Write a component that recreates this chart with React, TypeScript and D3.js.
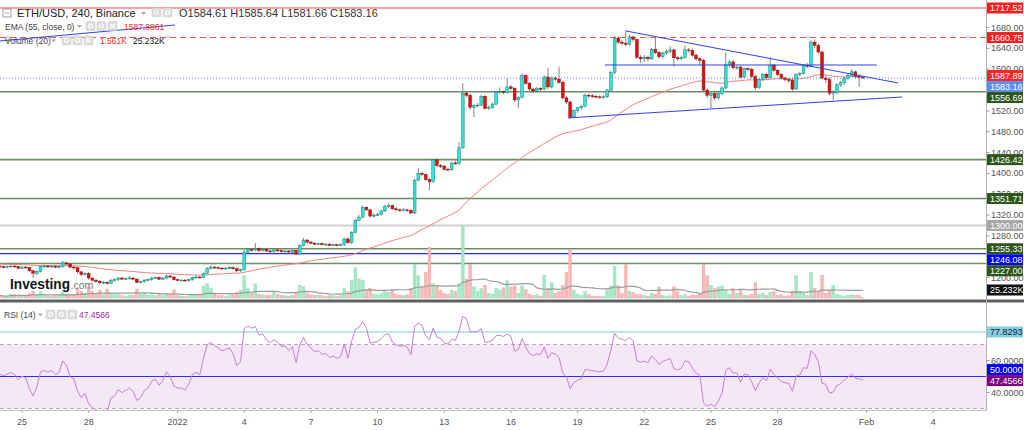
import React from 'react';
import * as d3 from 'd3';

// ---------------- DATA ----------------
const closes = [
  1221,1220,1221,1222,1221,1218, 1220,1219,1213,1208,1212,1221, 1222,1221,1222,1220,1221,1228,
  1226,1220,1219,1211,1206,1208, 1199,1195,1193,1190,1191,1189, 1195,1196,1199,1197,1198,1199,
  1197,1191,1192,1195,1196,1199, 1200,1197,1199,1203,1201,1196, 1195,1195,1194,1196,1200,1201,
  1200,1208,1218,1220,1219,1218, 1217,1218,1219,1217,1213,1215, 1249,1254,1253,1256,1252,1254,
  1251,1250,1253,1252,1250,1251, 1249,1252,1245,1262,1272,1268, 1266,1264,1265,1263,1264,1262,
  1263,1262,1263,1274,1267,1287, 1310,1316,1335,1330,1318,1320, 1321,1328,1336,1338,1332,1330,
  1329,1330,1329,1324,1387,1400, 1398,1388,1384,1426,1415,1414, 1408,1407,1420,1419,1449,1554,
  1550,1527,1530,1531,1548,1525, 1527,1533,1556,1557,1555,1566, 1563,1541,1546,1588,1573,1562,
  1558,1563,1562,1585,1566,1583, 1581,1575,1545,1537,1508,1521, 1526,1529,1550,1549,1548,1547,
  1546,1547,1560,1594,1660,1652, 1650,1648,1662,1657,1623,1620, 1623,1620,1638,1632,1624,1631,
  1634,1637,1622,1620,1623,1637, 1636,1627,1620,1617,1560,1550, 1553,1545,1553,1564,1608,1614,
  1603,1604,1585,1601,1600,1586, 1565,1580,1590,1584,1608,1598, 1590,1583,1580,1579,1562,1590,
  1592,1607,1606,1652,1646,1633, 1583,1580,1554,1556,1570,1574, 1582,1588,1595,1586,1584.61,1583.16,
];
const highs = [
  1224,1223,1223,1224,1224,1222, 1222,1222,1220,1215,1214,1223, 1224,1224,1224,1224,1223,1232,
  1231,1228,1222,1221,1213,1210, 1211,1201,1197,1195,1193,1193, 1197,1198,1202,1201,1200,1203,
  1201,1199,1194,1197,1198,1201, 1202,1202,1201,1206,1205,1203, 1198,1197,1197,1198,1202,1204,
  1203,1210,1220,1223,1222,1221, 1220,1220,1222,1221,1219,1217, 1253,1257,1256,1266,1258,1257,
  1256,1254,1255,1255,1254,1253, 1253,1254,1253,1264,1276,1274, 1270,1268,1267,1267,1266,1266,
  1265,1265,1265,1277,1278,1289, 1312,1320,1338,1337,1332,1323, 1324,1330,1340,1343,1340,1335,
  1333,1333,1332,1331,1390,1410, 1403,1400,1391,1428,1428,1418, 1416,1411,1422,1424,1460,1573,
  1557,1553,1533,1535,1551,1550, 1530,1536,1558,1565,1559,1583, 1570,1565,1548,1592,1590,1575,
  1565,1566,1566,1588,1602,1586, 1586,1605,1578,1548,1540,1523, 1528,1532,1553,1553,1552,1551,
  1550,1550,1562,1597,1664,1663, 1656,1675,1666,1664,1659,1627, 1627,1626,1641,1660,1635,1634,
  1637,1644,1640,1625,1626,1645, 1641,1640,1630,1623,1620,1563, 1556,1556,1556,1567,1632,1618,
  1617,1607,1607,1603,1604,1603, 1589,1582,1593,1592,1622,1610, 1600,1592,1586,1583,1582,1592,
  1595,1609,1612,1656,1657,1649, 1636,1588,1584,1560,1573,1577, 1585,1592,1600,1597,1590,1585.64,
];
const lows = [
  1219,1218,1218,1219,1219,1216, 1216,1217,1211,1199,1205,1210, 1219,1219,1219,1218,1218,1219,
  1224,1218,1215,1208,1203,1204, 1196,1192,1190,1186,1187,1186, 1187,1193,1194,1195,1195,1197,
  1195,1189,1189,1190,1193,1194, 1197,1195,1195,1197,1199,1194, 1193,1192,1192,1192,1194,1198,
  1198,1199,1206,1215,1216,1216, 1215,1215,1216,1215,1210,1211, 1213,1247,1250,1251,1249,1250,
  1249,1247,1248,1249,1247,1248, 1246,1247,1243,1243,1260,1265, 1264,1262,1262,1261,1261,1260,
  1260,1260,1260,1261,1265,1264, 1285,1308,1314,1328,1316,1315, 1318,1319,1326,1333,1330,1327,
  1326,1327,1326,1321,1322,1385, 1395,1385,1368,1382,1412,1410, 1405,1404,1405,1416,1417,1447,
  1546,1522,1508,1527,1529,1522, 1522,1524,1531,1553,1552,1553, 1560,1537,1525,1544,1570,1558,
  1555,1556,1558,1560,1562,1563, 1578,1572,1542,1533,1505,1506, 1516,1522,1527,1545,1545,1544,
  1543,1543,1545,1558,1590,1648, 1646,1644,1645,1653,1620,1612, 1614,1615,1618,1629,1620,1621,
  1628,1630,1605,1616,1617,1620, 1632,1624,1616,1608,1556,1545, 1525,1540,1542,1550,1562,1604,
  1600,1599,1582,1583,1596,1583, 1560,1562,1577,1580,1582,1595, 1587,1580,1576,1574,1558,1560,
  1586,1590,1602,1604,1640,1630, 1580,1574,1550,1540,1552,1566, 1570,1580,1585,1583,1566,1581.66,
];
// volume in thousands
const volumes = [
  8,5,6,12,10,9, 6,5,15,22,10,20, 8,6,5,7,9,18,
  12,8,10,30,22,14, 35,20,12,25,10,28, 14,10,12,8,6,9,
  8,28,12,15,9,10, 7,12,8,14,10,26, 8,6,5,7,10,8,
  9,38,45,30,12,8, 7,6,8,10,18,25, 70,30,15,45,12,10,
  9,8,20,12,8,7, 6,9,18,40,35,15, 10,8,9,7,6,8,
  7,6,8,30,20,55, 95,60,55,25,30,12, 10,15,20,18,25,12,
  9,8,10,30,105,70, 35,80,160,45,40,25, 15,12,25,20,45,227,
  60,105,35,20,30,40, 15,12,30,25,32,55, 35,38,15,38,26,12,
  8,10,6,72,30,48, 15,20,40,80,150,25, 12,8,20,10,6,5,
  6,5,30,38,100,38, 15,105,22,18,12,10, 8,6,15,12,35,8,
  6,7,35,20,8,10, 6,10,8,12,105,70, 40,30,35,38,25,12,
  30,15,25,10,8,12, 48,12,15,8,18,20, 8,10,6,7,22,70,
  20,15,8,80,30,20, 72,15,25,40,12,8, 6,8,10,9,8,1.561,
];
const firstOpen = 1222;
const emaSeed = 1226;
const emaPeriod = 55;
const rsiPeriod = 14;
// RSI state at the left edge (average gain / loss), read so that RSI starts near 52
const rsiSeedGain = 2.2;
const rsiSeedLoss = 2.0;
const volMaPeriod = 20;

// candle index of each date label (4h candles, index 0 = Dec 24 00:00)
const dateTickIndex = [6, 24, 48, 66, 84, 102, 120, 138, 156, 174, 192, 210, 234, 252];
const dateTickLabels = ['25', '28', '2022', '4', '7', '10', '13', '16', '19', '22', '25', '28', 'Feb', '4'];

const priceTicks = [1200, 1240, 1280, 1320, 1360, 1400, 1440, 1480, 1520, 1560, 1600, 1640, 1680];
const levelPrices = [1717.52, 1660.75, 1556.69, 1426.42, 1351.71, 1300, 1255.33, 1246.08, 1227];
const levelKinds = ['resist', 'resistDash', 'support', 'support', 'support', 'round', 'support', 'blue', 'support'];

// drawn trend lines: [startIndex, startPrice, endIndex, endPrice]
const trendLines = [
  [0, 1654.2, 47.3, 1684.9],
  [169.1, 1673.4, 242.5, 1573.6],
  [153.4, 1506.4, 243.6, 1546.7],
];
const rangeLine = [163.4, 236.8, 1608.1];

const titleText = 'ETH/USD, 240, Binance';
const ohlcText = 'O1584.61 H1585.64 L1581.66 C1583.16';
const emaText = 'EMA (55, close, 0)';
const emaValueText = '1587.8861';
const emaLast = 1587.89;
const lastPrice = 1583.16;
const volText = 'Volume (20)';
const volLastText = '1.561K';
const volMaText = '25.232K';
const volMaLast = 25.232;
const rsiText = 'RSI (14)';
const rsiLast = 47.4566;
const rsiMark = 77.8293;
const rsiBands = [70, 30];
const rsiTicks = [60, 40];

// ---------------- CHART ----------------
const FONT = "'Liberation Sans', Arial, sans-serif";
const AXIS_X = 986.5;

const kindStyle: Record<string, { line: string; dash?: string; w: number; bg: string; fg: string }> = {
  resist: { line: '#ff4a4a', w: 1, bg: '#ff1c1c', fg: '#fff' },
  resistDash: { line: '#ff4a4a', dash: '6,4', w: 1, bg: '#ff1c1c', fg: '#fff' },
  support: { line: '#6f8c60', w: 1.6, bg: '#2d561c', fg: '#fff' },
  round: { line: '#cfcfcf', w: 2, bg: '#a8a8a8', fg: '#fff' },
  blue: { line: '#2a2aff', w: 1.2, bg: '#0000ff', fg: '#fff' },
  ema: { line: '', w: 0, bg: '#ff2626', fg: '#fff' },
  last: { line: '', w: 0, bg: '#5b8ef0', fg: '#fff' },
  vol: { line: '', w: 0, bg: '#111', fg: '#fff' },
};

function Icons({ x0, y0, count }: { x0: number; y0: number; count: number }) {
  return (
    <g>
      {d3.range(count).map((k) => (
        <g key={k} transform={`translate(${x0 + k * 11},${y0})`}>
          <rect x={0} y={0} width={9} height={9} rx={1} fill="#dcdcdc" stroke="#cfcfcf" strokeWidth={0.5} />
          {k === count - 1 && count === 3 ? (
            <path d="M2.5,2.5 L6.5,6.5 M6.5,2.5 L2.5,6.5" stroke="#fff" strokeWidth={1.2} />
          ) : (
            <circle cx={4.5} cy={4.5} r={2} fill="none" stroke="#fff" strokeWidth={1.2} />
          )}
        </g>
      ))}
    </g>
  );
}

function Caret({ x0, y0 }: { x0: number; y0: number }) {
  return <path d={`M${x0},${y0} l5,0 l-2.5,3 z`} fill="#aaa" />;
}

export default function App() {
  const n = closes.length;
  const opens = closes.map((c, i) => (i === 0 ? firstOpen : closes[i - 1]));

  const x = d3.scaleLinear().domain([6, 234]).range([22, 866.5]);
  const y = d3.scaleLinear().domain([1227, 1717.52]).range([263.5, 8]);
  const yVol = d3.scaleLinear().domain([0, 227]).range([298, 226]);
  const yRsi = d3.scaleLinear().domain([30, 70]).range([408.5, 344.5]);

  // EMA(55)
  const kE = 2 / (emaPeriod + 1);
  const ema: number[] = [];
  closes.forEach((c, i) => {
    const prev = i === 0 ? emaSeed : ema[i - 1];
    ema.push(prev + kE * (c - prev));
  });

  // RSI(14), Wilder smoothing from the seeded state
  const rsi: number[] = [];
  let ag = rsiSeedGain, al = rsiSeedLoss;
  for (let i = 0; i < n; i++) {
    const d = closes[i] - opens[i];
    ag = (ag * (rsiPeriod - 1) + Math.max(d, 0)) / rsiPeriod;
    al = (al * (rsiPeriod - 1) + Math.max(-d, 0)) / rsiPeriod;
    rsi.push(al === 0 ? 100 : 100 - 100 / (1 + ag / al));
  }

  const volMa = volumes.map((_, i) => d3.mean(volumes.slice(Math.max(0, i - volMaPeriod + 1), i + 1)) as number);

  const emaLine = d3.line<number>().x((_, i) => x(i)).y((v) => y(v))(ema) || '';
  const volMaLine = d3.line<number>().x((_, i) => x(i)).y((v) => yVol(v))(volMa) || '';
  const rsiLine = d3.line<number>().x((_, i) => x(i)).y((v) => yRsi(v))(rsi) || '';

  // axis label boxes with collision avoidance
  const boxes = [
    ...levelPrices.map((v, i) => ({ yy: y(v), text: v.toFixed(2), kind: levelKinds[i] })),
    { yy: y(emaLast), text: emaLast.toFixed(2), kind: 'ema' },
    { yy: y(lastPrice), text: lastPrice.toFixed(2), kind: 'last' },
    { yy: yVol(volMaLast), text: volMaText, kind: 'vol' },
  ].sort((a, b) => a.yy - b.yy);
  for (let i = 1; i < boxes.length; i++) {
    if (boxes[i].yy < boxes[i - 1].yy + 11) boxes[i].yy = boxes[i - 1].yy + 11;
  }
  // tick labels fully hidden behind a box are not drawn
  const visibleTicks = priceTicks.filter((p) => boxes.every((b) => Math.abs(b.yy - y(p)) >= 4));

  const rsiBoxes = [
    { yy: yRsi(rsiMark), text: rsiMark.toFixed(4), bg: '#86cde2', fg: '#123' },
    { yy: yRsi(rsiLast) - 11, text: (50).toFixed(4), bg: '#0000ff', fg: '#fff' },
    { yy: yRsi(rsiLast), text: rsiLast.toFixed(4), bg: '#800080', fg: '#fff' },
  ];

  return (
    <svg
      width={1024}
      height={430}
      style={{ position: 'fixed', left: 0, top: 0, background: '#fff', display: 'block' }}
      fontFamily={FONT}
    >
      <defs>
        <clipPath id="mainClip">
          <rect x={0} y={0} width={AXIS_X} height={299} />
        </clipPath>
        <clipPath id="rsiClip">
          <rect x={0} y={303} width={AXIS_X} height={108} />
        </clipPath>
      </defs>
      <rect x={0} y={0} width={1024} height={430} fill="#fff" />

      {/* ---------- main panel ---------- */}
      <g clipPath="url(#mainClip)">
        {levelPrices.map((v, i) => {
          const s = kindStyle[levelKinds[i]];
          return (
            <line key={i} x1={0} x2={AXIS_X} y1={y(v)} y2={y(v)} stroke={s.line} strokeWidth={s.w} strokeDasharray={s.dash} />
          );
        })}
        {/* volume */}
        {volumes.map((v, i) => {
          const up = closes[i] >= opens[i];
          return (
            <rect
              key={i}
              x={x(i) - 1.4}
              y={yVol(v)}
              width={2.8}
              height={yVol(0) - yVol(v)}
              fill={up ? '#a6e8c6' : '#f9b9b9'}
              stroke={up ? '#86dcb0' : '#f3a0a0'}
              strokeWidth={0.4}
            />
          );
        })}
        <path d={volMaLine} fill="none" stroke="#9c9c9c" strokeWidth={1.2} />
        {/* EMA */}
        <path d={emaLine} fill="none" stroke="#f58080" strokeWidth={1} />
        {/* candles */}
        {closes.map((c, i) => {
          const o = opens[i];
          const up = c >= o;
          const cx = x(i);
          const yt = y(Math.max(o, c));
          const yb = y(Math.min(o, c));
          return (
            <g key={i}>
              <line x1={cx} x2={cx} y1={y(highs[i])} y2={y(lows[i])} stroke="#5c6b5e" strokeWidth={0.8} />
              <rect
                x={cx - 1.4}
                y={yt}
                width={2.8}
                height={Math.max(0.8, yb - yt)}
                fill={up ? '#30e3de' : '#e3100f'}
                stroke={up ? '#16826c' : '#8a0d0d'}
                strokeWidth={0.5}
              />
            </g>
          );
        })}
        {/* trend lines */}
        {trendLines.map((t, i) => (
          <line key={i} x1={x(t[0])} y1={y(t[1])} x2={x(t[2])} y2={y(t[3])} stroke="#3242ea" strokeWidth={1} />
        ))}
        <line x1={x(rangeLine[0])} x2={x(rangeLine[1])} y1={y(rangeLine[2])} y2={y(rangeLine[2])} stroke="#3242ea" strokeWidth={1} />
        {/* last price dotted */}
        <line x1={0} x2={AXIS_X} y1={y(lastPrice)} y2={y(lastPrice)} stroke="#5b7fe6" strokeWidth={1} strokeDasharray="1,2" />
      </g>

      {/* legend */}
      <g>
        <rect x={3} y={9} width={8} height={8} fill="none" stroke="#888" strokeWidth={0.8} />
        <line x1={5} x2={9} y1={13} y2={13} stroke="#888" strokeWidth={0.8} />
        <text x={17} y={17} fontSize={11} fill="#222">{titleText}</text>
        <Caret x0={141} y0={12} />
        <Icons x0={152} y0={8} count={2} />
        <text x={179} y={17} fontSize={11} fill="#333">{ohlcText}</text>

        <text x={5} y={29.5} fontSize={8.5} fill="#444">{emaText}</text>
        <Caret x0={77} y0={25} />
        <Icons x0={86} y0={21.5} count={3} />
        <text x={124} y={29.5} fontSize={8.5} fill="#ff1f1f">{emaValueText}</text>

        <text x={5} y={44} fontSize={8.5} fill="#444">{volText}</text>
        <Caret x0={51} y0={39.5} />
        <Icons x0={62} y0={36} count={3} />
        <text x={100} y={44} fontSize={8.5} fill="#ff1f1f">{volLastText}</text>
        <text x={133} y={44} fontSize={8.5} fill="#111">{volMaText}</text>

        {/* Investing.com */}
        <text x={10} y={289} fontSize={15} fontWeight="bold" fill="#141414" textLength={60} lengthAdjust="spacingAndGlyphs">
          Investing
        </text>
        <text x={70.5} y={289} fontSize={10.5} fill="#777">.com</text>
      </g>

      {/* separator */}
      <rect x={0} y={299.5} width={1024} height={3} fill="#5f5f5f" />

      {/* ---------- RSI panel ---------- */}
      <g clipPath="url(#rsiClip)">
        <rect x={0} y={yRsi(rsiBands[0])} width={AXIS_X} height={yRsi(rsiBands[1]) - yRsi(rsiBands[0])} fill="#f4e7f6" />
        {rsiBands.map((b) => (
          <line key={b} x1={0} x2={AXIS_X} y1={yRsi(b)} y2={yRsi(b)} stroke="#b7a9b8" strokeWidth={1} strokeDasharray="4,3" />
        ))}
        <line x1={0} x2={AXIS_X} y1={yRsi(rsiMark)} y2={yRsi(rsiMark)} stroke="#86cbe0" strokeWidth={1} />
        <line x1={0} x2={AXIS_X} y1={yRsi(50)} y2={yRsi(50)} stroke="#2a2aff" strokeWidth={1} />
        <path d={rsiLine} fill="none" stroke="#c67fd2" strokeWidth={1} />
      </g>
      <text x={4} y={318} fontSize={8.5} fill="#444">{rsiText}</text>
      <Caret x0={38} y0={313.5} />
      <Icons x0={46} y0={310} count={3} />
      <text x={79} y={318} fontSize={8.5} fill="#9c27b0">{rsiLast.toFixed(4)}</text>

      {/* axes */}
      <line x1={AXIS_X} x2={AXIS_X} y1={0} y2={411} stroke="#b4b4b4" strokeWidth={1} />
      <line x1={0} x2={AXIS_X} y1={410.5} y2={410.5} stroke="#c4c4c4" strokeWidth={1} />
      {priceTicks.map((p) => (
        <line key={p} x1={AXIS_X} x2={AXIS_X + 3} y1={y(p)} y2={y(p)} stroke="#999" />
      ))}
      {visibleTicks.map((p) => (
        <text key={p} x={991} y={y(p) + 3} fontSize={9} fill="#555">{p.toFixed(2)}</text>
      ))}
      {rsiTicks.map((r) => (
        <g key={r}>
          <line x1={AXIS_X} x2={AXIS_X + 3} y1={yRsi(r)} y2={yRsi(r)} stroke="#999" />
          <text x={991} y={yRsi(r) + 3} fontSize={9} fill="#555">{r.toFixed(4)}</text>
        </g>
      ))}
      {boxes.map((b, i) => {
        const s = kindStyle[b.kind];
        return (
          <g key={i}>
            <rect x={AXIS_X + 0.5} y={b.yy - 5.5} width={36} height={11} fill={s.bg} />
            <text x={990} y={b.yy + 3.2} fontSize={9} fill={s.fg}>{b.text}</text>
          </g>
        );
      })}
      {rsiBoxes.map((b, i) => (
        <g key={i}>
          <rect x={AXIS_X + 0.5} y={b.yy - 5.5} width={36} height={11} fill={b.bg} />
          <text x={990} y={b.yy + 3.2} fontSize={9} fill={b.fg}>{b.text}</text>
        </g>
      ))}
      {dateTickIndex.map((t, i) => (
        <g key={i}>
          <line x1={x(t)} x2={x(t)} y1={410.5} y2={413} stroke="#aaa" />
          <text x={x(t)} y={425} fontSize={9} fill="#555" textAnchor="middle">{dateTickLabels[i]}</text>
        </g>
      ))}
    </svg>
  );
}
